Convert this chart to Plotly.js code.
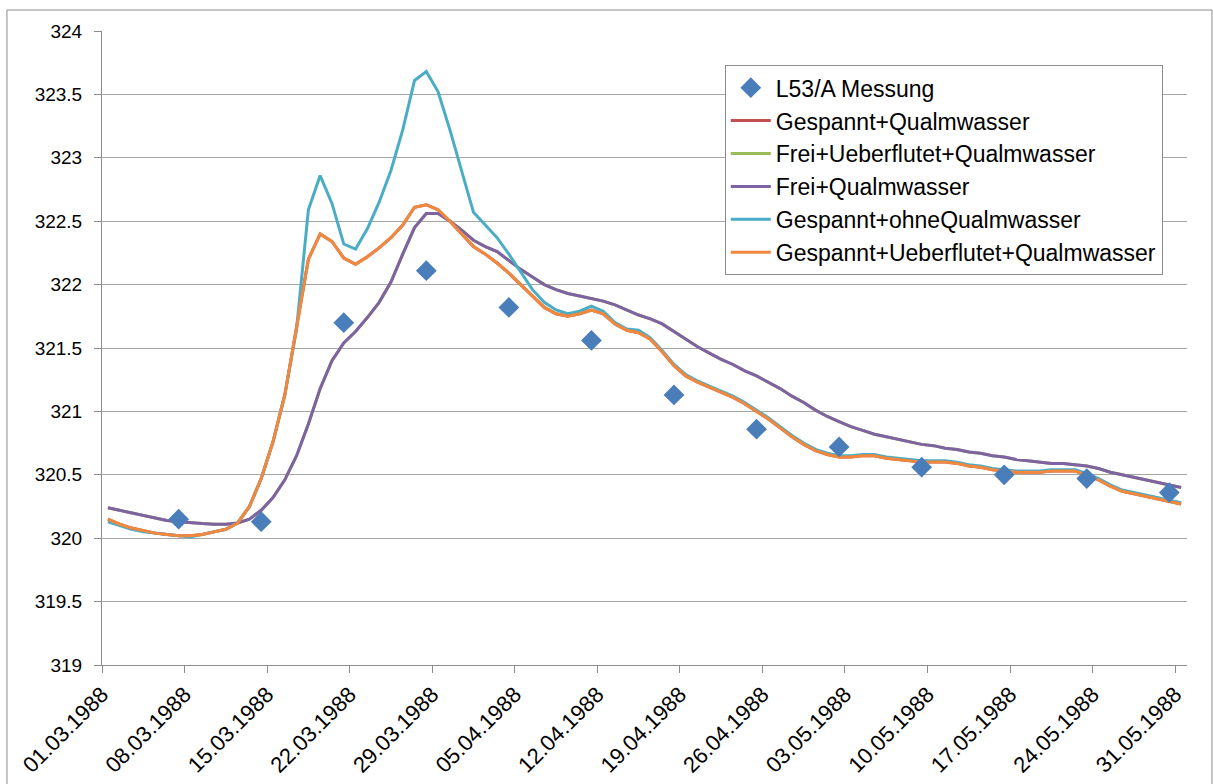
<!DOCTYPE html>
<html>
<head>
<meta charset="utf-8">
<script src="https://cdn.plot.ly/plotly-3.0.1.min.js"></script>
<style>
  html, body { margin: 0; padding: 0; background: #fff; }
  #chart { width: 1213px; height: 784px; }
</style>
</head>
<body>
<div id="chart"></div>
<script>
// ---- data ----
const startDay = '1988-03-01';   // daily model output, one value per day (noon), 01.03 - 31.05.1988

const messDates = ['1988-03-07 12:00','1988-03-14 12:00','1988-03-21 12:00','1988-03-28 12:00',
  '1988-04-04 12:00','1988-04-11 12:00','1988-04-18 12:00','1988-04-25 12:00','1988-05-02 12:00',
  '1988-05-09 12:00','1988-05-16 12:00','1988-05-23 12:00','1988-05-30 12:00'];
const messung = [320.15, 320.13, 321.70, 322.11, 321.82, 321.56, 321.13, 320.86, 320.72,
  320.56, 320.50, 320.47, 320.36];

const gespanntUeberflutet = [
  320.15, 320.11, 320.08, 320.06, 320.04, 320.03, 320.02, 320.02, 320.03, 320.05,
  320.07, 320.12, 320.25, 320.47, 320.76, 321.13, 321.65, 322.20, 322.40, 322.34,
  322.21, 322.16, 322.22, 322.29, 322.37, 322.47, 322.61, 322.63, 322.59, 322.50,
  322.40, 322.30, 322.24, 322.17, 322.09, 322.00, 321.91, 321.82, 321.77, 321.75,
  321.77, 321.80, 321.77, 321.69, 321.64, 321.62, 321.57, 321.47, 321.36, 321.28,
  321.23, 321.19, 321.15, 321.11, 321.06, 321.00, 320.94, 320.87, 320.80, 320.74,
  320.69, 320.66, 320.64, 320.64, 320.65, 320.65, 320.63, 320.62, 320.61, 320.60,
  320.60, 320.60, 320.59, 320.57, 320.56, 320.54, 320.53, 320.52, 320.52, 320.52,
  320.53, 320.53, 320.53, 320.50, 320.46, 320.41, 320.37, 320.35, 320.33, 320.31,
  320.29, 320.27];

const gespanntQualm = [
  320.15, 320.11, 320.08, 320.06, 320.04, 320.03, 320.02, 320.02, 320.03, 320.05,
  320.07, 320.12, 320.25, 320.47, 320.76, 321.13, 321.65, 322.20, 322.40, 322.34,
  322.21, 322.16, 322.22, 322.29, 322.37, 322.47, 322.61, 322.63, 322.59, 322.50,
  322.40, 322.30, 322.24, 322.17, 322.09, 322.00, 321.91, 321.82, 321.77, 321.75,
  321.77, 321.80, 321.77, 321.69, 321.64, 321.62, 321.57, 321.47, 321.36, 321.28,
  321.23, 321.19, 321.15, 321.11, 321.06, 321.00, 320.94, 320.87, 320.80, 320.74,
  320.69, 320.66, 320.64, 320.64, 320.65, 320.65, 320.63, 320.62, 320.61, 320.60,
  320.60, 320.60, 320.59, 320.57, 320.56, 320.54, 320.53, 320.52, 320.52, 320.52,
  320.53, 320.53, 320.53, 320.50, 320.46, 320.41, 320.37, 320.35, 320.33, 320.31,
  320.29, 320.27];

const gespanntOhne = [
  320.13, 320.10, 320.07, 320.05, 320.04, 320.03, 320.02, 320.01, 320.03, 320.05,
  320.07, 320.12, 320.25, 320.47, 320.76, 321.13, 321.65, 322.59, 322.86, 322.64,
  322.32, 322.28, 322.44, 322.65, 322.90, 323.22, 323.61, 323.68, 323.52, 323.22,
  322.90, 322.57, 322.47, 322.37, 322.24, 322.10, 321.96, 321.86, 321.80, 321.77,
  321.79, 321.83, 321.79, 321.70, 321.65, 321.64, 321.58, 321.48, 321.37, 321.29,
  321.24, 321.20, 321.16, 321.12, 321.07, 321.01, 320.95, 320.88, 320.81, 320.75,
  320.70, 320.67, 320.65, 320.65, 320.66, 320.66, 320.64, 320.63, 320.62, 320.61,
  320.61, 320.61, 320.60, 320.58, 320.57, 320.55, 320.54, 320.53, 320.53, 320.53,
  320.54, 320.54, 320.54, 320.51, 320.47, 320.42, 320.38, 320.36, 320.34, 320.32,
  320.30, 320.28];

const freiQualm = [
  320.24, 320.22, 320.20, 320.18, 320.16, 320.14, 320.13, 320.12, 320.115, 320.11,
  320.11, 320.12, 320.15, 320.22, 320.32, 320.46, 320.65, 320.90, 321.18, 321.40,
  321.54, 321.63, 321.74, 321.86, 322.02, 322.24, 322.45, 322.56, 322.56, 322.50,
  322.43, 322.35, 322.30, 322.26, 322.19, 322.12, 322.06, 322.00, 321.96, 321.93,
  321.91, 321.89, 321.87, 321.84, 321.80, 321.76, 321.73, 321.69, 321.63, 321.57,
  321.51, 321.46, 321.41, 321.37, 321.32, 321.28, 321.23, 321.18, 321.12, 321.07,
  321.01, 320.96, 320.92, 320.88, 320.85, 320.82, 320.80, 320.78, 320.76, 320.74,
  320.73, 320.71, 320.70, 320.68, 320.67, 320.65, 320.64, 320.62, 320.61, 320.60,
  320.59, 320.59, 320.58, 320.57, 320.55, 320.52, 320.50, 320.48, 320.46, 320.44,
  320.42, 320.40];

const freiUeberflutet = [
  320.24, 320.22, 320.20, 320.18, 320.16, 320.14, 320.13, 320.12, 320.115, 320.11,
  320.11, 320.12, 320.15, 320.22, 320.32, 320.46, 320.65, 320.90, 321.18, 321.40,
  321.54, 321.63, 321.74, 321.86, 322.02, 322.24, 322.45, 322.56, 322.56, 322.50,
  322.43, 322.35, 322.30, 322.26, 322.19, 322.12, 322.06, 322.00, 321.96, 321.93,
  321.91, 321.89, 321.87, 321.84, 321.80, 321.76, 321.73, 321.69, 321.63, 321.57,
  321.51, 321.46, 321.41, 321.37, 321.32, 321.28, 321.23, 321.18, 321.12, 321.07,
  321.01, 320.96, 320.92, 320.88, 320.85, 320.82, 320.80, 320.78, 320.76, 320.74,
  320.73, 320.71, 320.70, 320.68, 320.67, 320.65, 320.64, 320.62, 320.61, 320.60,
  320.59, 320.59, 320.58, 320.57, 320.55, 320.52, 320.50, 320.48, 320.46, 320.44,
  320.42, 320.40];

// daily date labels (noon of each day)
function dailyDates(start, n) {
  const p = start.split('-').map(Number);
  const out = [];
  for (let k = 0; k < n; k++) {
    const d = new Date(Date.UTC(p[0], p[1] - 1, p[2] + k, 12));
    out.push(d.toISOString().slice(0, 10) + ' 12:00');
  }
  return out;
}
const days = dailyDates(startDay, gespanntUeberflutet.length);

const FONT = 'Liberation Sans, Arial, sans-serif';

function lineTrace(name, y, color, rank) {
  return {
    type: 'scatter', mode: 'lines', name: name, x: days, y: y,
    line: { color: color, width: 3 },
    legendrank: rank, legendgroup: name
  };
}

const traces = [
  lineTrace('Gespannt+Qualmwasser', gespanntQualm, '#C0504D', 2),
  lineTrace('Frei+Ueberflutet+Qualmwasser', freiUeberflutet, '#9BBB59', 3),
  lineTrace('Frei+Qualmwasser', freiQualm, '#7F62A1', 4),
  lineTrace('Gespannt+ohneQualmwasser', gespanntOhne, '#4BACC6', 5),
  lineTrace('Gespannt+Ueberflutet+Qualmwasser', gespanntUeberflutet, '#F0883E', 6),
  {
    type: 'scatter', mode: 'markers', name: 'L53/A Messung', x: messDates, y: messung,
    marker: { symbol: 'diamond', size: 16, color: '#4A7EBB', line: { width: 0 } },
    legendrank: 1, legendgroup: 'mess'
  }
];

const layout = {
  width: 1213, height: 784,
  margin: { l: 102, r: 26, t: 31, b: 119 },
  paper_bgcolor: '#ffffff', plot_bgcolor: '#ffffff',
  font: { family: FONT, size: 20, color: '#000' },
  showlegend: true,
  legend: {
    x: 0.574, y: 0.946, xanchor: 'left', yanchor: 'top',
    bgcolor: '#ffffff', bordercolor: '#8C8C8C', borderwidth: 1,
    font: { family: FONT, size: 23, color: '#000' },
    traceorder: 'grouped', tracegroupgap: 0, itemwidth: 40
  },
  xaxis: {
    type: 'date',
    range: ['1988-03-01', '1988-06-01'],
    tick0: '1988-03-01', dtick: 7 * 86400000,
    tickformat: '%d.%m.%Y', tickangle: -45,
    ticks: 'outside', ticklen: 7, tickcolor: '#8C8C8C', tickwidth: 1,
    showline: true, linecolor: '#8C8C8C', linewidth: 1,
    showgrid: false, zeroline: false,
    tickfont: { family: FONT, size: 22, color: '#000' }
  },
  yaxis: {
    range: [319, 324], dtick: 0.5, tick0: 319,
    ticks: 'outside', ticklen: 7, tickcolor: '#8C8C8C', tickwidth: 1,
    showline: true, linecolor: '#8C8C8C', linewidth: 1,
    showgrid: true, gridcolor: '#A6A6A6', gridwidth: 1,
    zeroline: false, ticklabelstandoff: 8,
    tickfont: { family: FONT, size: 19, color: '#000' }
  },
  shapes: [{
    type: 'rect', xref: 'paper', yref: 'paper',
    x0: -0.0876, x1: 1.023, y0: -0.2, y1: 1.0331,
    line: { color: '#8C8C8C', width: 1 }, fillcolor: 'rgba(0,0,0,0)', layer: 'below'
  }]
};

Plotly.newPlot('chart', traces, layout, { staticPlot: true, displayModeBar: false });
</script>
</body>
</html>
